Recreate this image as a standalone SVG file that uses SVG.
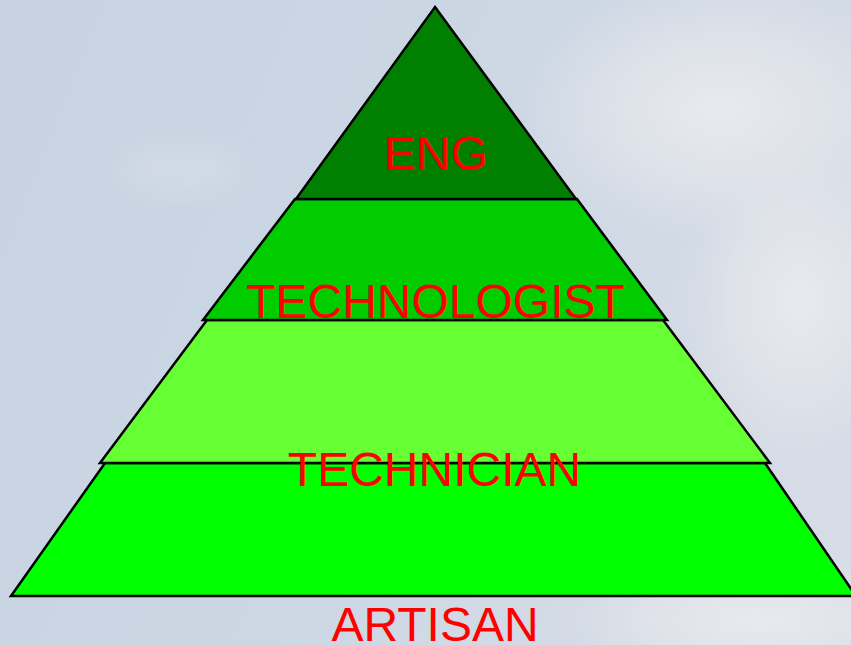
<svg xmlns="http://www.w3.org/2000/svg" width="851" height="645" viewBox="0 0 851 645">
<style>
.tier{stroke:#000;stroke-width:2.5;stroke-linejoin:miter}
.lbl{font-family:"Liberation Sans",Arial,sans-serif;font-size:48px;fill:#ff0000;text-anchor:middle}
</style>
<defs>
<linearGradient id="sky" x1="0" y1="0" x2="1" y2="0.3">
<stop offset="0" stop-color="#c7d3e2"/>
<stop offset="0.55" stop-color="#ccd7e4"/>
<stop offset="1" stop-color="#d6dce6"/>
</linearGradient>
<radialGradient id="cloud1" cx="0.5" cy="0.5" r="0.5">
<stop offset="0" stop-color="#eaebef" stop-opacity="0.95"/>
<stop offset="0.6" stop-color="#e4e6eb" stop-opacity="0.6"/>
<stop offset="1" stop-color="#e0e3ea" stop-opacity="0"/>
</radialGradient>
<filter id="blur" x="-20%" y="-20%" width="140%" height="140%"><feGaussianBlur stdDeviation="12"/></filter>
</defs>
<g id="background">
<rect width="851" height="645" fill="url(#sky)"/>
<ellipse cx="720" cy="110" rx="200" ry="130" fill="url(#cloud1)"/>
<ellipse cx="800" cy="300" rx="120" ry="160" fill="url(#cloud1)"/>
<ellipse cx="760" cy="620" rx="200" ry="70" fill="url(#cloud1)"/>
<ellipse cx="180" cy="170" rx="60" ry="25" fill="#d6dde8" opacity="0.6" filter="url(#blur)"/>
</g>
<g id="artisan">
<polygon class="tier" points="105,463 765,463 856,596 11,596" fill="#00ff00"/>
</g>
<g id="technician">
<polygon class="tier" points="207,320 663,320 770,463 100,463" fill="#66ff33"/>
</g>
<g id="technologist">
<polygon class="tier" points="295,199 577,199 667,320 203,320" fill="#00cc00"/>
</g>
<g id="eng">
<polygon class="tier" points="435,7 576,199 296,199" fill="#007f00"/>
</g>
<g id="labels">
<text class="lbl" x="436" y="170">ENG</text>
<text class="lbl" x="435.5" y="318">TECHNOLOGIST</text>
<text class="lbl" x="434.5" y="486">TECHNICIAN</text>
<text class="lbl" x="435" y="641">ARTISAN</text>
</g>
</svg>
